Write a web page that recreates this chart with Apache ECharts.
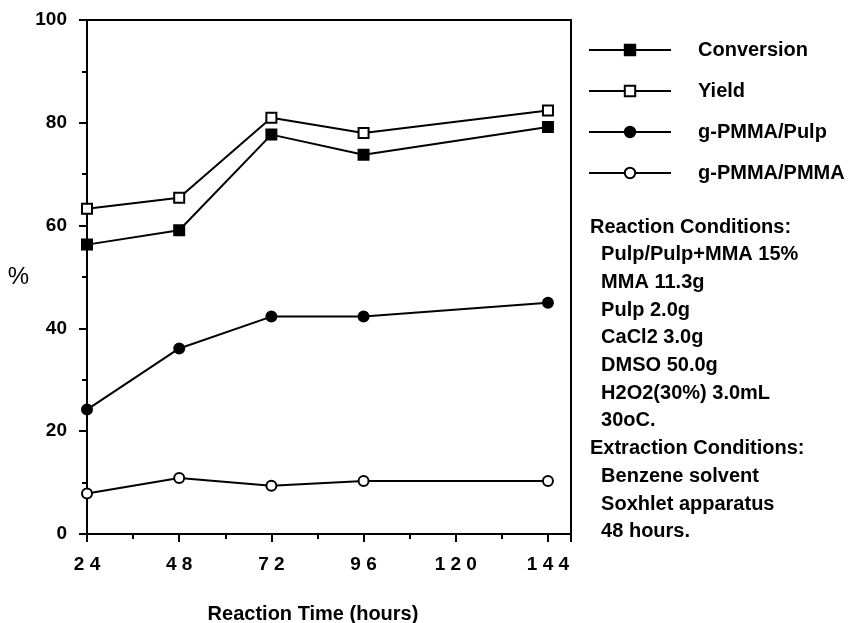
<!DOCTYPE html>
<html>
<head>
<meta charset="utf-8">
<script src="https://cdn.jsdelivr.net/npm/echarts@6/dist/echarts.min.js"></script>
<style>
  html, body { margin: 0; padding: 0; background: #fff; }
  #main { width: 864px; height: 623px; }
</style>
</head>
<body>
<div id="main"></div>
<script>
const hours = [24, 48, 72, 96, 144]
const conversion = [56.3, 59.1, 77.7, 73.8, 79.2]
const yieldPct = [63.3, 65.4, 81.0, 78.0, 82.4]
const pulpGraft = [24.2, 36.1, 42.3, 42.3, 45.0]
const pmmaGraft = [7.9, 10.9, 9.4, 10.3, 10.3]
const seriesNames = ['Conversion', 'Yield', 'g-PMMA/Pulp', 'g-PMMA/PMMA']
const conditions = [
  'Reaction Conditions:',
  '  Pulp/Pulp+MMA 15%',
  '  MMA 11.3g',
  '  Pulp 2.0g',
  '  CaCl2 3.0g',
  '  DMSO 50.0g',
  '  H2O2(30%) 3.0mL',
  '  30oC.',
  'Extraction Conditions:',
  '  Benzene solvent',
  '  Soxhlet apparatus',
  '  48 hours.'
]

const font = 'Liberation Sans'
const myChart = echarts.init(document.getElementById('main'))

function pairs(vals) {
  return hours.map((h, i) => [h, vals[i]])
}

function line(name, vals, symbol, filled, size) {
  return {
    name: name,
    type: 'line',
    data: pairs(vals),
    symbol: symbol,
    symbolSize: size,
    showAllSymbol: true,
    lineStyle: { color: '#000', width: 2 },
    itemStyle: {
      color: filled ? '#000' : '#fff',
      borderColor: '#000',
      borderWidth: 2
    },
    emphasis: { disabled: true }
  }
}

const option = {
  animation: false,
  backgroundColor: '#fff',
  grid: { left: 87, top: 20, right: 293, bottom: 89, outerBoundsMode: 'none', containLabel: false },
  xAxis: {
    type: 'value',
    min: 24,
    max: 150,
    interval: 24,
    name: 'Reaction Time (hours)',
    nameLocation: 'middle',
    nameGap: 70,
    nameTextStyle: { color: '#000', fontFamily: font, fontWeight: 'bold', fontSize: 20, padding: [0, 32, 0, 0] },
    axisLine: { lineStyle: { color: '#000', width: 2 } },
    axisTick: { length: 8, lineStyle: { color: '#000', width: 2 } },
    minorTick: { show: true, splitNumber: 2, length: 5, lineStyle: { color: '#000', width: 2 } },
    splitLine: { show: false },
    axisLabel: {
      color: '#000', fontFamily: font, fontWeight: 'bold', fontSize: 19, margin: 21,
      showMaxLabel: false,
      formatter: v => String(v).split('').join(' ')
    }
  },
  yAxis: {
    type: 'value',
    min: 0,
    max: 100,
    interval: 20,
    name: '%',
    nameLocation: 'middle',
    nameRotate: 0,
    nameGap: 58,
    nameTextStyle: { color: '#000', fontFamily: font, fontSize: 24 },
    axisLine: { show: true, lineStyle: { color: '#000', width: 2 } },
    axisTick: { length: 8, lineStyle: { color: '#000', width: 2 } },
    minorTick: { show: true, splitNumber: 2, length: 5, lineStyle: { color: '#000', width: 2 } },
    splitLine: { show: false },
    axisLabel: { color: '#000', fontFamily: font, fontWeight: 'bold', fontSize: 19, margin: 20 }
  },
  legend: {
    orient: 'vertical',
    left: 588,
    top: 40,
    padding: 0,
    itemWidth: 82,
    itemHeight: 13,
    itemGap: 21,
    selectedMode: false,
    data: seriesNames,
    textStyle: { color: '#000', fontFamily: font, fontWeight: 'bold', fontSize: 20, padding: [0, 0, 0, 22] }
  },
  graphic: [
    {
      type: 'rect',
      silent: true,
      shape: { x: 87, y: 20, width: 484, height: 514 },
      style: { fill: 'none', stroke: '#000', lineWidth: 2 }
    }
  ].concat(conditions.map((t, i) => ({
    type: 'text',
    left: 590,
    top: 217 + i * 27.7,
    silent: true,
    style: { text: t, fill: '#000', font: 'bold 20px "' + font + '"' }
  }))),
  series: [
    line(seriesNames[0], conversion, 'rect', true, 10),
    line(seriesNames[1], yieldPct, 'rect', false, 10),
    line(seriesNames[2], pulpGraft, 'circle', true, 10),
    line(seriesNames[3], pmmaGraft, 'circle', false, 10)
  ]
}

option && myChart.setOption(option)
</script>
</body>
</html>
